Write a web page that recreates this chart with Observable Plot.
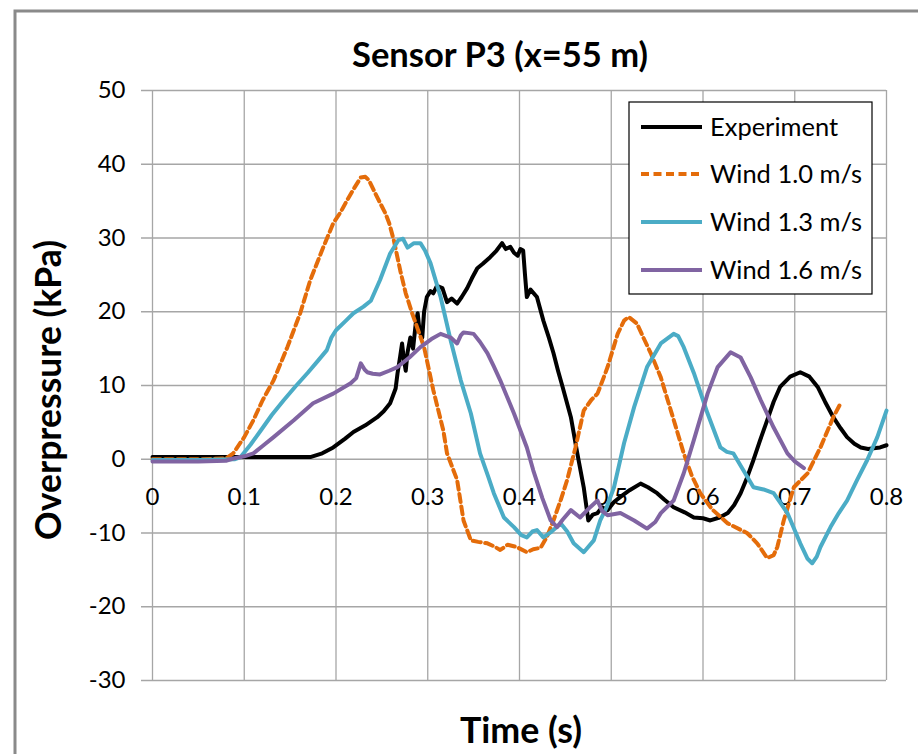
<!DOCTYPE html>
<html><head><meta charset="utf-8">
<script src="https://cdn.jsdelivr.net/npm/d3@7"></script>
<script src="https://cdn.jsdelivr.net/npm/@observablehq/plot@0.6"></script>
<style>html,body{margin:0;padding:0;background:#fff;overflow:hidden} svg{display:block}</style>
</head><body><div id="chart"></div>
<script>
// ---- data (time in s, overpressure in kPa) ----
const experiment = [[0,0.3],[0.05,0.3],[0.1,0.3],[0.15,0.3],[0.172,0.3],[0.185,0.8],[0.197,1.6],[0.21,2.8],[0.219,3.7],[0.232,4.6],[0.245,5.7],[0.252,6.5],[0.259,7.6],[0.265,9.6],[0.267,11.6],[0.270,14],[0.272,15.7],[0.274,13.5],[0.276,12],[0.278,14.5],[0.281,16.5],[0.284,15],[0.287,18.5],[0.289,19.8],[0.291,17.5],[0.294,16.5],[0.296,20],[0.299,22],[0.303,22.8],[0.306,22.5],[0.310,23.5],[0.316,23.2],[0.321,21.3],[0.326,21.8],[0.332,21.1],[0.337,22],[0.343,23.2],[0.348,24.5],[0.354,25.9],[0.36,26.5],[0.368,27.4],[0.375,28.3],[0.381,29.3],[0.385,28.5],[0.39,28.8],[0.394,28],[0.398,27.6],[0.401,28.5],[0.404,28.3],[0.406,25],[0.408,22],[0.412,23],[0.419,22],[0.426,18.8],[0.432,16.5],[0.437,14.4],[0.442,12],[0.447,9.8],[0.456,5.7],[0.463,0.8],[0.47,-3.8],[0.475,-8.3],[0.48,-7.5],[0.485,-7.3],[0.49,-6.5],[0.496,-6.9],[0.503,-5.8],[0.51,-5.1],[0.52,-4.2],[0.532,-3.3],[0.54,-3.8],[0.55,-4.6],[0.558,-5.5],[0.568,-6.5],[0.58,-7.2],[0.59,-7.9],[0.6,-8],[0.608,-8.3],[0.618,-7.9],[0.627,-7.3],[0.634,-6.2],[0.641,-4.6],[0.648,-2.5],[0.655,-0.1],[0.662,2.5],[0.67,5.3],[0.677,7.8],[0.684,9.8],[0.695,11.2],[0.706,11.8],[0.716,11.2],[0.725,9.8],[0.733,7.8],[0.742,5.7],[0.75,4.2],[0.757,3],[0.765,2.1],[0.772,1.6],[0.78,1.4],[0.786,1.5],[0.793,1.6],[0.8,1.9]];

const wind10 = [[0,0],[0.05,0],[0.08,0.1],[0.088,0.8],[0.1,3],[0.11,5.3],[0.12,8],[0.132,10.7],[0.147,15.2],[0.161,19.8],[0.172,24.3],[0.186,28.7],[0.197,32],[0.205,33.5],[0.212,35.1],[0.22,36.8],[0.227,38.2],[0.232,38.3],[0.236,37.8],[0.245,35.5],[0.254,33.3],[0.258,32],[0.263,29.7],[0.27,25.6],[0.276,22.5],[0.283,19.8],[0.296,15.2],[0.306,9.4],[0.317,3.9],[0.321,0.8],[0.332,-2.8],[0.339,-8.3],[0.347,-11],[0.355,-11.2],[0.365,-11.4],[0.372,-11.8],[0.379,-12.3],[0.387,-11.6],[0.397,-11.9],[0.408,-12.6],[0.415,-12.2],[0.423,-12],[0.43,-10.5],[0.437,-8.3],[0.445,-5.5],[0.452,-2.8],[0.461,1.6],[0.47,6.6],[0.478,8],[0.485,8.9],[0.49,10.5],[0.496,12.5],[0.507,17],[0.514,18.8],[0.519,19.3],[0.528,18.4],[0.535,16.5],[0.543,14.4],[0.554,11.1],[0.565,6.6],[0.579,0.8],[0.588,-2.3],[0.597,-4.6],[0.61,-6.8],[0.627,-8.7],[0.648,-10],[0.659,-11.4],[0.67,-13.4],[0.677,-13],[0.681,-11.9],[0.688,-8.3],[0.699,-3.8],[0.714,-1.9],[0.728,1.6],[0.742,5.7],[0.75,7.6]];

const wind13 = [[0,-0.1],[0.05,-0.1],[0.09,0],[0.096,0.3],[0.107,2],[0.118,3.9],[0.13,6],[0.143,8],[0.156,9.9],[0.169,11.7],[0.18,13.3],[0.19,14.8],[0.195,16.5],[0.2,17.5],[0.21,18.7],[0.219,19.8],[0.23,20.7],[0.238,21.5],[0.248,24.3],[0.259,27.9],[0.268,29.7],[0.273,29.9],[0.278,28.7],[0.285,29.3],[0.292,29.3],[0.297,28.3],[0.303,26.6],[0.314,22],[0.325,16.1],[0.336,10.7],[0.347,6.2],[0.357,0.8],[0.366,-2.4],[0.372,-4.6],[0.383,-7.9],[0.394,-9.2],[0.402,-10.3],[0.408,-10.6],[0.414,-9.8],[0.419,-9.6],[0.426,-10.6],[0.435,-9.8],[0.445,-8.7],[0.452,-9.8],[0.459,-11.4],[0.47,-12.6],[0.481,-11],[0.488,-8.3],[0.495,-6.5],[0.503,-3.8],[0.514,2.2],[0.525,7.1],[0.539,12.5],[0.554,15.7],[0.568,17],[0.573,16.7],[0.579,15.2],[0.59,11.7],[0.605,6.2],[0.619,1.6],[0.626,1],[0.633,0.8],[0.644,-1.5],[0.655,-3.8],[0.666,-4.1],[0.677,-4.6],[0.692,-7.3],[0.706,-11.4],[0.714,-13.5],[0.719,-14.1],[0.724,-13.2],[0.728,-11.9],[0.739,-9.2],[0.748,-7.3],[0.757,-5.6],[0.768,-2.8],[0.779,-0.1],[0.79,3],[0.8,6.6]];

const wind16 = [[0,-0.3],[0.05,-0.3],[0.08,-0.2],[0.088,0.1],[0.1,0.4],[0.11,0.8],[0.12,1.8],[0.132,3],[0.154,5.3],[0.175,7.6],[0.197,8.9],[0.216,10.3],[0.222,11],[0.227,13],[0.231,12.2],[0.234,11.8],[0.24,11.6],[0.248,11.5],[0.258,12],[0.267,12.5],[0.28,13.8],[0.292,15.2],[0.304,16.3],[0.314,17],[0.325,16.5],[0.332,15.7],[0.336,16.8],[0.339,17.2],[0.345,17.1],[0.35,17],[0.357,15.9],[0.365,14.4],[0.372,12.6],[0.379,10.7],[0.394,6.2],[0.408,1.6],[0.415,-1.5],[0.425,-5.3],[0.434,-8.3],[0.441,-9.2],[0.447,-8.2],[0.456,-6.9],[0.466,-7.9],[0.477,-6.5],[0.485,-5.6],[0.49,-7],[0.496,-7.6],[0.51,-7.3],[0.525,-8.3],[0.539,-9.4],[0.548,-8.5],[0.554,-7.3],[0.568,-5.6],[0.579,-1.9],[0.59,2.6],[0.605,8.9],[0.616,12.5],[0.63,14.5],[0.641,13.8],[0.652,11.1],[0.663,8],[0.677,4.3],[0.692,0.8],[0.7,-0.3],[0.71,-1.2]];

const seriesNames = ["Experiment", "Wind 1.0 m/s", "Wind 1.3 m/s", "Wind 1.6 m/s"];
const seriesColors = ["#000000", "#E46C0A", "#4BACC6", "#8064A2"];
const xTicks = [0, 0.1, 0.2, 0.3, 0.4, 0.5, 0.6, 0.7, 0.8];
const yTicks = [-30, -20, -10, 0, 10, 20, 30, 40, 50];
const titleText = "Sensor P3 (x=55 m)";
const xLabel = "Time (s)";
const yLabel = "Overpressure (kPa)";

const FONT = "Lato, 'Open Sans', sans-serif";
const dash = "8,4.5";
const grid = "#a6a6a6";
const LW = 4;

const lineOpts = (c) => ({stroke: c, strokeWidth: LW, strokeLinejoin: "round", strokeLinecap: "round"});

const chart = Plot.plot({
  width: 918, height: 754,
  marginLeft: 152, marginRight: 32, marginTop: 90, marginBottom: 74,
  style: {fontFamily: FONT, background: "#fff", color: "#000"},
  x: {domain: [0, 0.8], axis: null},
  y: {domain: [-30, 50], axis: null},
  marks: [
    Plot.gridX(xTicks, {stroke: grid, strokeOpacity: 1, strokeWidth: 1.3}),
    Plot.gridY(yTicks, {stroke: grid, strokeOpacity: 1, strokeWidth: 1.3, insetLeft: -11}),
    Plot.axisY(yTicks, {tickSize: 0, tickPadding: 27, fontSize: 24, fill: "#000", tickFormat: d => String(d)}),
    Plot.text(xTicks, {x: d => d, y: 0, dy: 38, text: d => String(d), fontSize: 24, fill: "#000"}),
    Plot.line(experiment, lineOpts(seriesColors[0])),
    Plot.line(wind10, {stroke: seriesColors[1], strokeWidth: LW, strokeDasharray: dash, strokeLinejoin: "round"}),
    Plot.line(wind13, lineOpts(seriesColors[2])),
    Plot.line(wind16, lineOpts(seriesColors[3]))
  ]
});
document.getElementById("chart").appendChild(chart);

const svg = d3.select(chart);
// outer chart-area border
svg.append("path").attr("d", "M15,770V11H930").attr("fill", "none").attr("stroke", "#8a8a8a").attr("stroke-width", 3);

function fit(sel, target) {
  const node = sel.node();
  const fs = parseFloat(sel.attr("font-size"));
  const w = node.getComputedTextLength();
  if (w > 0) sel.attr("font-size", (fs * target / w).toFixed(2));
  return sel;
}

const title = svg.append("text").attr("x", 500).attr("y", 67).attr("text-anchor", "middle")
  .attr("font-family", FONT).attr("font-weight", "bold").attr("font-size", 32).attr("fill", "#000").text(titleText);
fit(title, 296);

const xl = svg.append("text").attr("x", 521).attr("y", 743).attr("text-anchor", "middle")
  .attr("font-family", FONT).attr("font-weight", "bold").attr("font-size", 32).attr("fill", "#000").text(xLabel);
fit(xl, 122);

const yl = svg.append("text").attr("transform", "translate(61,390) rotate(-90)").attr("text-anchor", "middle")
  .attr("font-family", FONT).attr("font-weight", "bold").attr("font-size", 32).attr("fill", "#000").text(yLabel);
fit(yl, 300);

// legend
const lg = svg.append("g");
lg.append("rect").attr("x", 629).attr("y", 102).attr("width", 243).attr("height", 192)
  .attr("fill", "#fff").attr("stroke", "#000").attr("stroke-width", 1.2);
const rowsY = [127, 174, 222, 270];
let legendFs = null;
seriesNames.forEach((name, i) => {
  const l = lg.append("line").attr("x1", 641).attr("x2", 702).attr("y1", rowsY[i]).attr("y2", rowsY[i])
    .attr("stroke", seriesColors[i]).attr("stroke-width", LW);
  if (i === 1) l.attr("stroke-dasharray", dash);
  const t = lg.append("text").attr("x", 710).attr("y", rowsY[i]).attr("dy", "0.35em")
    .attr("text-anchor", "start")
    .attr("font-family", FONT).attr("font-size", 24).attr("fill", "#000").text(name);
  if (i === 1) { fit(t, 152); legendFs = t.attr("font-size"); }
});
lg.selectAll("text").attr("font-size", legendFs);
</script>
</body></html>
